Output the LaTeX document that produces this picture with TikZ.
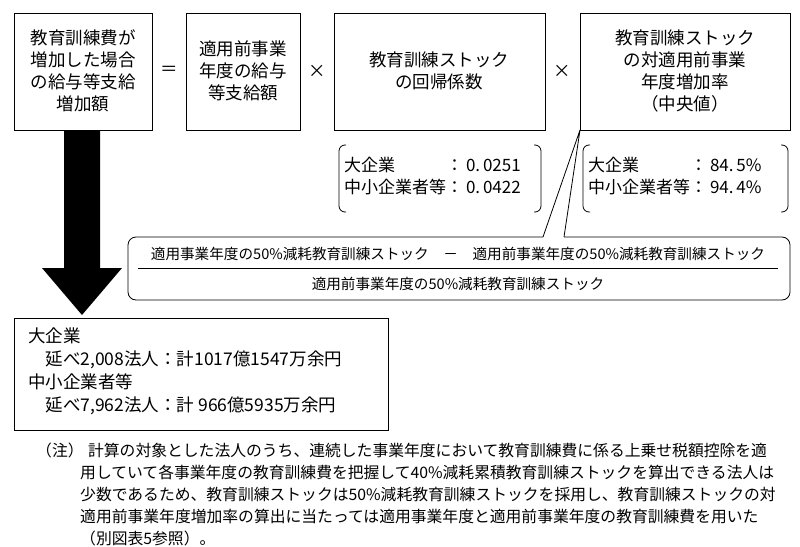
\documentclass[tikz,border=0pt]{standalone}
\usepackage{fontspec}
\setmainfont{Noto Sans CJK JP}
\usetikzlibrary{calc}
\begin{document}
\begin{tikzpicture}[x=1pt,y=-1pt,
  bx/.style={draw,thick,inner sep=0pt},
  lbl/.style={align=center,font=\fontsize{17.5}{22}\selectfont},
  br/.style={thick,rounded corners=6pt}]
\useasboundingbox (0,0) rectangle (800,546);
\draw[bx] (14,13) rectangle (152,130) node[lbl] (b1) at (83,71) {教育訓練費が\\増加した場合\\の給与等支給\\増加額};
\draw[bx] (186,13) rectangle (300,130) node[lbl] (b2) at (243,71) {適用前事業\\年度の給与\\等支給額};
\draw[bx] (334,13) rectangle (545,130) node[lbl] (b3) at (439,71) {教育訓練ストック\\の回帰係数};
\draw[bx] (580,13) rectangle (790,130) node[lbl] (b4) at (685,71) {教育訓練ストック\\の対適用前事業\\年度増加率\\（中央値）};
\node[lbl] (eq) at (169,71) {＝};
\node[lbl] (x1) at (317,71) {×};
\node[lbl] (x2) at (562,71) {×};
% brackets
\draw[br] (346,145) -- (339,145) -- (339,212) -- (346,212);
\draw[br] (534,145) -- (541,145) -- (541,212) -- (534,212);
\draw[br] (590,145) -- (583,145) -- (583,212) -- (590,212);
\draw[br] (781,145) -- (788,145) -- (788,212) -- (781,212);
\node[anchor=west,font=\fontsize{17}{22}\selectfont,inner sep=0pt] (c1) at (344,178) {\begin{tabular}{@{}l@{}l@{}}大企業&：\,0.\,0251\\中小企業者等&：\,0.\,0422\end{tabular}};
\node[anchor=west,font=\fontsize{17}{22}\selectfont,inner sep=0pt] (c2) at (588,178) {\begin{tabular}{@{}l@{}l@{}}大企業&：\,84.\,5\%\\中小企業者等&：\,94.\,4\%\end{tabular}};
% callout box
\coordinate (k) at (580,130);
\draw[thick,rounded corners=8pt] (543,237) -- (128,237) -- (128,300) -- (790,300) -- (790,237) -- (564,237);
\draw[thick] (543,237) -- (k) -- (564,237);
\node[font=\fontsize{14.6}{16}\selectfont] (num) at (458,254) {適用事業年度の50\%減耗教育訓練ストック\quad －\quad 適用前事業年度の50\%減耗教育訓練ストック};
\draw[thick] (138,268) -- (778,268);
\node[font=\fontsize{14.6}{16}\selectfont] (den) at (458,284) {適用前事業年度の50\%減耗教育訓練ストック};
% arrow
\fill (64,130) -- (100,130) -- (100,268) -- (122,268) -- (82,315) -- (42,268) -- (64,268) -- cycle;
% result
\draw[bx] (14,318) rectangle (388,430);
\node[anchor=north west,align=left,font=\fontsize{17.5}{23}\selectfont,inner sep=0pt] (res) at (28,328) {大企業\\\hspace{1em}延べ2,008法人：計1017億1547万余円\\中小企業者等\\\hspace{1em}延べ7,962法人：計 966億5935万余円};
% note
\node[anchor=north west,inner sep=0pt,font=\fontsize{15.8}{22}\selectfont] (n0) at (36,443) {（注）};
\node[anchor=north west,inner sep=0pt,align=left,font=\fontsize{15.8}{22}\selectfont,text width=730pt] (note) at (80,443) {\hspace{0.5em}計算の対象とした法人のうち、連続した事業年度において教育訓練費に係る上乗せ税額控除を適\\用していて各事業年度の教育訓練費を把握して40\%減耗累積教育訓練ストックを算出できる法人は\\少数であるため、教育訓練ストックは50\%減耗教育訓練ストックを採用し、教育訓練ストックの対\\適用前事業年度増加率の算出に当たっては適用事業年度と適用前事業年度の教育訓練費を用いた\\（別図表5参照）。};
\end{tikzpicture}
\end{document}
